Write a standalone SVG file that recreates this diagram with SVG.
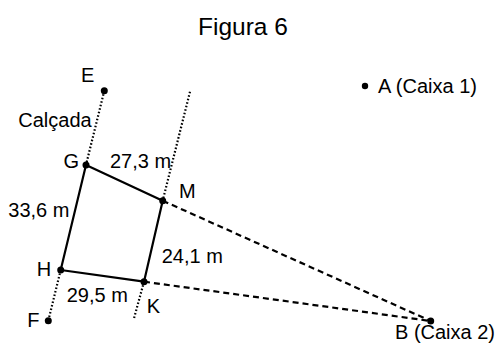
<svg xmlns="http://www.w3.org/2000/svg" width="498" height="343" viewBox="0 0 498 343">
<style>
text{font-family:"Liberation Sans",Arial,sans-serif;font-size:20px;fill:#000}
.title{font-size:24.5px}
.solid{stroke:#000;stroke-width:2.2;fill:none;stroke-linecap:round}
.dot{stroke:#000;stroke-width:2.2;fill:none;stroke-dasharray:1.6 2}
.dash{stroke:#000;stroke-width:2.2;fill:none;stroke-dasharray:6 4}
.pt{fill:#000}
</style>
<rect width="498" height="343" fill="#fff"/>
<text class="title" x="198" y="35">Figura 6</text>
<g id="connectors">
<line class="dot" x1="104.3" y1="90.7" x2="86" y2="165"/>
<line class="dot" x1="60.7" y1="270" x2="48.3" y2="320.7"/>
<line class="dot" x1="190" y1="91.7" x2="162.7" y2="200.7"/>
<line class="dot" x1="144" y1="281.7" x2="134" y2="318.3"/>
<line class="solid" x1="86" y1="165" x2="162.7" y2="200.7"/>
<line class="solid" x1="162.7" y1="200.7" x2="144" y2="281.7"/>
<line class="solid" x1="144" y1="281.7" x2="60.7" y2="270"/>
<line class="solid" x1="60.7" y1="270" x2="86" y2="165"/>
<line class="dash" x1="162.7" y1="200.7" x2="430.7" y2="321"/>
<line class="dash" x1="144" y1="281.7" x2="430.7" y2="321"/>
</g>
<g id="E"><circle class="pt" cx="104.3" cy="90.7" r="3.5"/><text x="81" y="81.7">E</text></g>
<g id="G"><circle class="pt" cx="86" cy="165" r="3.5"/><text x="63.5" y="168.3">G</text></g>
<g id="M"><circle class="pt" cx="162.7" cy="200.7" r="3.5"/><text x="179" y="198.3">M</text></g>
<g id="H"><circle class="pt" cx="60.7" cy="270" r="3.5"/><text x="36.7" y="275.7">H</text></g>
<g id="K"><circle class="pt" cx="144" cy="281.7" r="3.5"/><text x="146.7" y="312.5">K</text></g>
<g id="F"><circle class="pt" cx="48.3" cy="320.7" r="3.5"/><text x="27.3" y="326.7">F</text></g>
<g id="A"><circle class="pt" cx="365" cy="86" r="3.2"/><text x="378" y="93.3">A (Caixa 1)</text></g>
<g id="B"><circle class="pt" cx="430.7" cy="321" r="3.5"/><text x="395" y="339.3">B (Caixa 2)</text></g>
<g id="labels">
<text x="18.3" y="127.3">Calçada</text>
<text x="110" y="168.3">27,3 m</text>
<text x="8.3" y="216.7">33,6 m</text>
<text x="161.7" y="263.3">24,1 m</text>
<text x="66.7" y="301.7">29,5 m</text>
</g>
</svg>
